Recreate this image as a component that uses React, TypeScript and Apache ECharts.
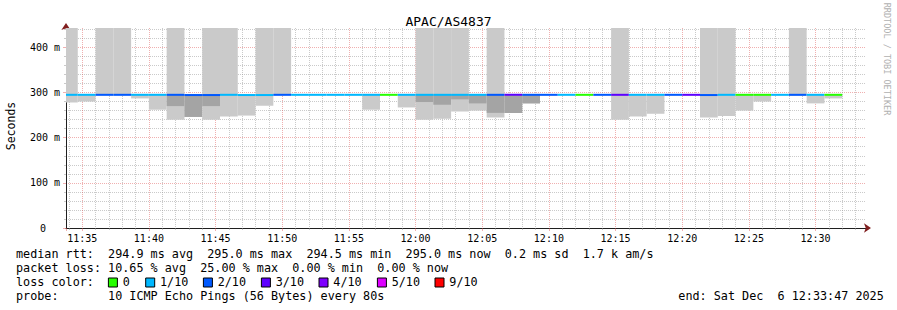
import React, { useEffect, useRef } from 'react';
import * as echarts from 'echarts';

const TITLE = 'APAC/AS4837';
const Y_NAME = 'Seconds';
const WATERMARK = 'RRDTOOL / TOBI OETIKER';

// seconds of day
const VIEW_START = 41627; // 11:33:47
const VIEW_END = 45227; // 12:33:47
const FIRST_STEP = 41600; // 11:33:20
const STEP = 80;
const Y_MAX = 443;

// per 80 s step: lost pings, median rtt (ms), smoke min/max (ms), inner smoke band (ms)
const LOSS = [1, 1, 2, 2, 1, 1, 2, 2, 2, 1, 1, 1, 2, 1, 1, 1, 1, 1, 0, 1, 1, 1, 1, 1, 2, 3, 2, 2, 1, 0, 2, 3, 1, 1, 2, 3, 2, 1, 0, 0, 1, 2, 1, 0];
const MEDIAN = [295, 295, 295, 295, 295, 295, 295, 294.5, 294.5, 295, 294.5, 294.5, 295, 295, 295, 295, 295, 295, 295, 295, 295, 295, 295, 295, 295, 295, 295, 295, 295, 295, 295, 295, 295, 295, 295, 295, 294.5, 295, 295, 295, 295, 295, 295, 295];
const SMOKE_LO = [278, 280, 294, 294, 287, 262, 240, 246, 240, 247, 249, 271, 294, 294, 294, 294, 294, 262, 294, 267, 240, 242, 258, 260, 245, 255, 276, 294, 294, 294, 294, 240, 247, 253, 294, 294, 245, 248, 260, 280, 294, 293, 276, 287];
const SMOKE_HI = [500, 297, 500, 500, 297, 297, 500, 297, 500, 500, 297, 500, 500, 296, 296, 296, 296, 297, 296, 297, 500, 500, 500, 297, 500, 297, 297, 296, 296, 296, 296, 500, 297, 297, 296, 296, 500, 500, 297, 297, 296, 500, 297, 297];
const CORE_LO = [null, null, null, null, null, null, 270, 246, 270, null, null, null, null, null, null, null, null, null, null, null, 279, 273, 285, 276, 255, 255, 276, null, null, null, null, null, null, null, null, null, null, null, null, null, null, null, null, null];
const CORE_HI = [null, null, null, null, null, null, 296, 296, 296, null, null, null, null, null, null, null, null, null, null, null, 296, 296, 296, 296, 296, 296, 296, null, null, null, null, null, null, null, null, null, null, null, null, null, null, null, null, null];

const LOSS_COLORS = ['#26ff00', '#00b8ff', '#0059ff', '#5e00ff', '#7e00ff', '#dd00ff', '#ff0000'];
const LOSS_LABELS = ['0', '1/10', '2/10', '3/10', '4/10', '5/10', '9/10'];

const MEDIAN_LABEL = 'median rtt:  ';
const MEDIAN_STATS = ['294.9 ms avg', '295.0 ms max', '294.5 ms min', '295.0 ms now', '0.2 ms sd', '1.7 k am/s'];
const LOSS_LABEL = 'packet loss: ';
const LOSS_STATS = ['10.65 % avg', '25.00 % max', '0.00 % min', '0.00 % now'];
const COLOR_LABEL = 'loss color:';
const PROBE_LABEL = 'probe:       ';
const PROBE_TEXT = '10 ICMP Echo Pings (56 Bytes) every 80s';
const END_TEXT = 'end: Sat Dec  6 12:33:47 2025';

// layout
const SWATCH_X = [108.4, 145.7, 203.4, 261.4, 319, 377.4, 435];
const SWATCH_LABEL_X = [122.7, 160, 217.7, 275.7, 333.3, 391.7, 449.3];

const MONO = 'DejaVu Sans Mono';
const LEGEND_FONT = 11.78;
const SMOKE_OUTER = '#cacaca';
const SMOKE_INNER = '#a4a4a4';
const GRID_MINOR = 'rgba(150,150,150,0.5)';
const GRID_MAJOR = 'rgba(222,79,79,0.45)';
const AXIS_COLOR = '#1f1f1f';
const ARROW_COLOR = '#801f1f';

const pad = (n: number) => (n < 10 ? '0' + n : '' + n);
const hhmm = (s: number) => pad(Math.floor(s / 3600)) + ':' + pad(Math.floor((s % 3600) / 60));

export default function App() {
  const ref = useRef<HTMLDivElement>(null);

  useEffect(() => {
    if (!ref.current) return;
    const chart = echarts.init(ref.current, null, { renderer: 'svg' });

    const data = LOSS.map((loss, i) => [
      FIRST_STEP + i * STEP,
      FIRST_STEP + (i + 1) * STEP,
      SMOKE_LO[i],
      SMOKE_HI[i],
      CORE_LO[i],
      CORE_HI[i],
      MEDIAN[i],
      loss,
    ]);

    const renderItem = (params: any, api: any) => {
      const cs = params.coordSys;
      const bounds = { x: cs.x, y: cs.y, width: cs.width, height: cs.height };
      const t0 = api.value(0);
      const t1 = api.value(1);
      const box = (lo: number, hi: number, fill: string) => {
        if (!Number.isFinite(lo) || !Number.isFinite(hi)) return null;
        const a = api.coord([t0, hi]);
        const b = api.coord([t1, lo]);
        const shape = echarts.graphic.clipRectByRect(
          { x: a[0], y: a[1], width: b[0] - a[0], height: b[1] - a[1] },
          bounds
        );
        return shape ? { type: 'rect', shape, style: { fill } } : null;
      };
      const children: any[] = [];
      const outer = box(api.value(2), api.value(3), SMOKE_OUTER);
      if (outer) children.push(outer);
      const inner = box(api.value(4), api.value(5), SMOKE_INNER);
      if (inner) children.push(inner);
      const med = api.value(6);
      const m0 = api.coord([t0, med]);
      const m1 = api.coord([t1, med]);
      const mshape = echarts.graphic.clipRectByRect(
        { x: m0[0], y: m0[1] - 1, width: m1[0] - m0[0], height: 2 },
        bounds
      );
      if (mshape) children.push({ type: 'rect', shape: mshape, style: { fill: LOSS_COLORS[api.value(7)] } });
      return { type: 'group', children };
    };

    const textEl = (x: number, y: number, text: string, extra: any = {}) => ({
      type: 'text',
      x,
      y,
      style: {
        text,
        fontFamily: MONO,
        fontSize: LEGEND_FONT,
        fill: '#000',
        textAlign: 'left',
        textVerticalAlign: 'middle',
        ...extra,
      },
    });

    const graphics: any[] = [];
    graphics.push(textEl(16, 254.3, MEDIAN_LABEL + MEDIAN_STATS.join('  ')));
    graphics.push(textEl(16, 268.3, LOSS_LABEL + LOSS_STATS.join('  ')));
    graphics.push(textEl(16, 282.3, COLOR_LABEL));
    LOSS_LABELS.forEach((s, i) => {
      graphics.push({
        type: 'rect',
        shape: { x: SWATCH_X[i], y: 278, width: 9, height: 9 },
        style: { fill: LOSS_COLORS[i], stroke: '#000', lineWidth: 1 },
      });
      graphics.push(textEl(SWATCH_LABEL_X[i], 282.3, s));
    });
    graphics.push(textEl(16, 296, PROBE_LABEL + PROBE_TEXT));
    graphics.push(textEl(678.3, 296, END_TEXT));
    graphics.push({
      type: 'text',
      x: 11,
      y: 126,
      rotation: Math.PI / 2,
      style: {
        text: Y_NAME,
        fontFamily: MONO,
        fontSize: 11.5,
        fill: '#000',
        textAlign: 'center',
        textVerticalAlign: 'middle',
      },
    });
    graphics.push({
      type: 'text',
      x: 886.5,
      y: 59,
      rotation: -Math.PI / 2,
      style: {
        text: WATERMARK,
        fontFamily: MONO,
        fontSize: 8.5,
        fill: '#b0b0b0',
        textAlign: 'center',
        textVerticalAlign: 'middle',
      },
    });

    const baseX = {
      type: 'value',
      min: VIEW_START,
      max: VIEW_END,
      splitNumber: 12,
      minInterval: 300,
      maxInterval: 300,
      position: 'bottom',
    };
    const baseY = {
      type: 'value',
      min: 0,
      max: Y_MAX,
      splitNumber: 4,
      minInterval: 100,
      maxInterval: 100,
      position: 'left',
    };
    const arrowAxis = {
      axisLine: {
        show: true,
        symbol: ['none', 'arrow'],
        symbolSize: [7, 7],
        symbolOffset: [0, 5],
        lineStyle: { color: ARROW_COLOR, width: 0 },
      },
      axisTick: { show: false },
      axisLabel: { show: false },
      splitLine: { show: false },
    };

    chart.setOption({
      animation: false,
      backgroundColor: '#ffffff',
      title: {
        text: TITLE,
        left: 'center',
        top: 10,
        textStyle: { fontFamily: MONO, fontSize: 13, fontWeight: 'normal', color: '#000' },
      },
      grid: { left: 66, right: 31, top: 28, bottom: 82 },
      xAxis: [
        {
          ...baseX,
          axisLine: { show: true, lineStyle: { color: AXIS_COLOR, width: 1 } },
          axisTick: { show: true, length: 3, lineStyle: { color: GRID_MAJOR } },
          minorTick: { show: true, splitNumber: 5, length: 2, lineStyle: { color: GRID_MINOR } },
          axisLabel: {
            show: true,
            showMinLabel: false,
            showMaxLabel: false,
            margin: 5,
            fontFamily: MONO,
            fontSize: 10,
            color: '#000',
            formatter: (v: number) => (v % 300 === 0 ? hhmm(v) : ''),
          },
          splitLine: { show: true, showMinLine: false, showMaxLine: false, lineStyle: { color: GRID_MAJOR, type: [1, 1], width: 1 } },
          minorSplitLine: { show: true, lineStyle: { color: GRID_MINOR, type: [1, 1], width: 1 } },
        },
        { ...baseX, ...arrowAxis },
      ],
      yAxis: [
        {
          ...baseY,
          axisLine: { show: true, lineStyle: { color: AXIS_COLOR, width: 1 } },
          axisTick: { show: true, length: 3, lineStyle: { color: GRID_MAJOR } },
          minorTick: { show: true, splitNumber: 5, length: 2, lineStyle: { color: GRID_MINOR } },
          axisLabel: {
            show: true,
            showMaxLabel: false,
            margin: 6,
            fontFamily: MONO,
            fontSize: 10,
            color: '#000',
            formatter: (v: number) => (v === 0 ? '{z|0}' : v % 100 === 0 ? v + ' m' : ''),
            rich: { z: { fontFamily: MONO, fontSize: 10, color: '#000', padding: [0, 14, 0, 0] } },
          },
          splitLine: { show: true, showMinLine: false, showMaxLine: false, lineStyle: { color: GRID_MAJOR, type: [1, 1], width: 1 } },
          minorSplitLine: { show: true, lineStyle: { color: GRID_MINOR, type: [1, 1], width: 1 } },
        },
        { ...baseY, ...arrowAxis },
      ],
      series: [
        {
          type: 'custom',
          xAxisIndex: 0,
          yAxisIndex: 0,
          renderItem,
          encode: { x: [0, 1], y: [2, 3] },
          data,
          clip: true,
          z: 2,
        },
      ],
      graphic: graphics,
    });

    return () => chart.dispose();
  }, []);

  return (
    <div
      ref={ref}
      style={{ position: 'fixed', left: 0, top: 0, width: 897, height: 310, background: '#fff' }}
    />
  );
}
